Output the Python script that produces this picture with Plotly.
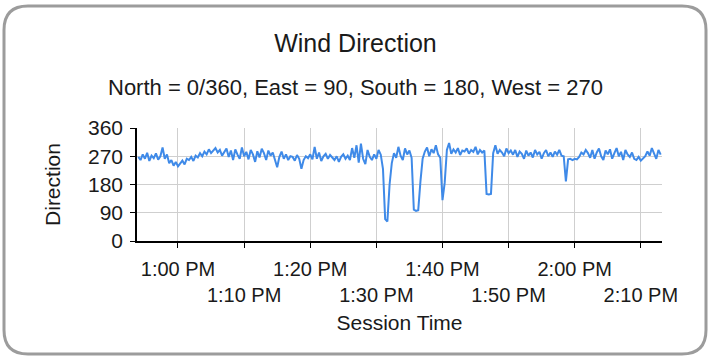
import plotly.graph_objects as go
import pandas as pd

# ---- data ----
start_time = "2020-01-01 12:54:00"
sample_seconds = 20
direction = [
    268, 258, 276, 262, 281, 255, 272, 264, 279, 259,
    270, 298, 262, 276, 248, 258, 240, 252, 238, 246,
    256, 244, 262, 258, 268, 255, 272, 266, 280, 270,
    285, 276, 292, 280, 288, 296, 282, 290, 272, 286,
    295, 268, 288, 258, 292, 275, 262, 298, 270, 284,
    260, 290, 276, 252, 286, 266, 294, 280, 258, 288,
    272, 282, 262, 235, 268, 285, 262, 276, 258, 270,
    268, 256, 274, 262, 230, 258, 270, 264, 276, 260,
    300, 262, 282, 255, 270, 278, 262, 274, 266, 258,
    270, 252, 268, 276, 262, 272, 258, 296, 265, 305,
    250, 310, 262, 245, 290, 268, 258, 276, 262, 290,
    275, 230, 70, 62, 180, 248, 280, 265, 300, 272,
    258, 295, 276, 288, 265, 100, 96, 98, 190, 262,
    285, 298, 270, 292, 280, 305, 276, 265, 130, 185,
    290, 312, 278, 292, 282, 296, 274, 288, 285, 295,
    278, 290, 284, 300, 276, 290, 282, 288, 150, 148,
    150, 280, 305, 278, 290, 282, 270, 295, 280, 288,
    275, 290, 268, 285, 278, 262, 288, 272, 282, 266,
    290, 276, 284, 262, 280, 290, 270, 282, 268, 285,
    275, 290, 272, 270, 190, 260, 262, 258, 262, 260,
    268, 282, 276, 290, 280, 265, 290, 262, 282, 295,
    270, 258, 288, 276, 292, 262, 280, 296, 270, 284,
    258, 290, 276, 268, 282, 262, 258, 268, 256, 262,
    270, 285, 272, 296, 280, 262, 290, 275,
]
times = pd.date_range(start_time, periods=len(direction), freq=f"{sample_seconds}s")

x_range = ["2020-01-01 12:53:48", "2020-01-01 14:13:12"]
tick_vals_top = ["2020-01-01 13:00:00", "2020-01-01 13:20:00",
                 "2020-01-01 13:40:00", "2020-01-01 14:00:00"]
tick_text_top = ["1:00 PM", "1:20 PM", "1:40 PM", "2:00 PM"]
tick_vals_bottom = ["2020-01-01 13:10:00", "2020-01-01 13:30:00",
                    "2020-01-01 13:50:00", "2020-01-01 14:10:00"]
tick_text_bottom = ["1:10 PM", "1:30 PM", "1:50 PM", "2:10 PM"]
y_ticks = [0, 90, 180, 270, 360]

title_text = "Wind Direction"
subtitle_text = "North = 0/360, East = 90, South = 180, West = 270"
y_title = "Direction"
x_title = "Session Time"

# ---- layout geometry ----
W, H = 711, 360
L, R, T, B = 137, 49, 128, 119
PW, PH = W - L - R, H - T - B


def px(x):
    return (x - L) / PW


def py(y):
    return (H - B - y) / PH


FONT = "Liberation Sans, Arial, sans-serif"
TXT = "#1a1a1a"

fig = go.Figure()
fig.add_trace(go.Scatter(x=times, y=direction, mode="lines",
                         line=dict(color="#3f8ae8", width=2),
                         showlegend=False, hoverinfo="skip"))
fig.add_trace(go.Scatter(x=tick_vals_bottom, y=[None] * len(tick_vals_bottom),
                         xaxis="x2", mode="lines", showlegend=False,
                         hoverinfo="skip"))

all_vals = [v for pair in zip(tick_vals_top, tick_vals_bottom) for v in pair]
all_text = [t for pair in zip(tick_text_top, [""] * 4) for t in pair]

fig.update_layout(
    width=W, height=H,
    margin=dict(l=L, r=R, t=T, b=B, pad=0),
    paper_bgcolor="white", plot_bgcolor="white",
    font=dict(family=FONT, color=TXT, size=20),
    title=dict(text=title_text, x=0.5, xref="container", xanchor="center",
               y=1 - 43 / H, yref="container", yanchor="middle",
               font=dict(size=25, color=TXT)),
    xaxis=dict(type="date", range=x_range, tickvals=all_vals, ticktext=all_text,
               showgrid=True, gridcolor="#cfcfcf", gridwidth=1,
               showline=True, linecolor="black", linewidth=1.5,
               ticks="outside", ticklen=5, tickcolor="black",
               tickfont=dict(size=20), ticklabelstandoff=4,
               zeroline=False,
               title=dict(text=x_title, font=dict(size=21), standoff=37)),
    xaxis2=dict(type="date", range=x_range, overlaying="x", anchor="y",
                side="bottom", tickvals=tick_vals_bottom,
                ticktext=tick_text_bottom, showgrid=False, showline=False,
                ticks="", tickfont=dict(size=20), ticklabelstandoff=40,
                zeroline=False),
    yaxis=dict(range=[0, 360], tickvals=y_ticks,
               showgrid=True, gridcolor="#cfcfcf", gridwidth=1,
               showline=True, linecolor="black", linewidth=1.5,
               ticks="outside", ticklen=5, tickcolor="black",
               tickfont=dict(size=21), ticklabelstandoff=3, zeroline=False,
               title=dict(text=y_title, font=dict(size=21), standoff=22)),
)

fig.add_annotation(text=subtitle_text, xref="paper", yref="paper",
                   x=px(W / 2), y=py(87), xanchor="center", yanchor="middle",
                   showarrow=False, font=dict(size=22, color=TXT))

# rounded frame
x0, x1, y0, y1, r = 4, 706, 6, 354, 24
path = (f"M {px(x0 + r)} {py(y0)} L {px(x1 - r)} {py(y0)} "
        f"Q {px(x1)} {py(y0)} {px(x1)} {py(y0 + r)} "
        f"L {px(x1)} {py(y1 - r)} Q {px(x1)} {py(y1)} {px(x1 - r)} {py(y1)} "
        f"L {px(x0 + r)} {py(y1)} Q {px(x0)} {py(y1)} {px(x0)} {py(y1 - r)} "
        f"L {px(x0)} {py(y0 + r)} Q {px(x0)} {py(y0)} {px(x0 + r)} {py(y0)} Z")
fig.add_shape(type="path", path=path, xref="paper", yref="paper",
              line=dict(color="#9c9c9c", width=3), fillcolor="rgba(0,0,0,0)",
              layer="below")

fig.write_html("out.html",
               config={"displayModeBar": False},
               post_script="document.body.style.margin='0';"
                           "document.body.style.overflow='hidden';")
